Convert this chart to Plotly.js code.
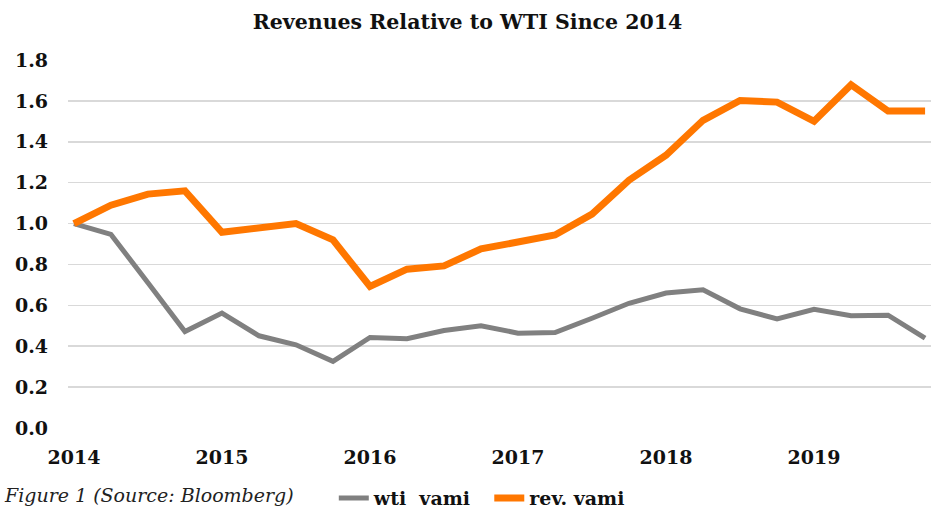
<!DOCTYPE html>
<html>
<head>
<meta charset="utf-8">
<script src="https://cdn.plot.ly/plotly-3.0.1.min.js"></script>
<style>html,body{margin:0;padding:0;background:#fff;}#chart{width:935px;height:512px;}</style>
</head>
<body>
<div id="chart"></div>
<script>
const quarters = [2014, 2014.25, 2014.5, 2014.75, 2015, 2015.25, 2015.5, 2015.75,
  2016, 2016.25, 2016.5, 2016.75, 2017, 2017.25, 2017.5, 2017.75,
  2018, 2018.25, 2018.5, 2018.75, 2019, 2019.25, 2019.5, 2019.75];
const wtiVami = [1.0, 0.947, 0.71, 0.472, 0.562, 0.451, 0.407, 0.326,
  0.443, 0.437, 0.477, 0.5, 0.464, 0.467, 0.537, 0.61,
  0.66, 0.676, 0.583, 0.533, 0.581, 0.549, 0.552, 0.44];
const revVami = [1.0, 1.09, 1.144, 1.16, 0.957, 0.978, 1.0, 0.92,
  0.692, 0.777, 0.793, 0.876, 0.911, 0.944, 1.046, 1.212,
  1.334, 1.505, 1.602, 1.594, 1.5, 1.679, 1.55, 1.55];
const yTicks = [0, 0.2, 0.4, 0.6, 0.8, 1.0, 1.2, 1.4, 1.6, 1.8];
const yTickText = ['0.0','0.2','0.4','0.6','0.8','1.0','1.2','1.4','1.6','1.8'];
const xTicks = [2014, 2015, 2016, 2017, 2018, 2019];
const xTickText = ['2014','2015','2016','2017','2018','2019'];

const serif = '"DejaVu Serif", "Liberation Serif", serif';

const traces = [
  {x: quarters, y: wtiVami, type: 'scatter', mode: 'lines', name: 'wti\u00a0 vami\u00a0\u00a0',
   line: {color: '#808080', width: 5}, cliponaxis: false},
  {x: quarters, y: revVami, type: 'scatter', mode: 'lines', name: 'rev. vami',
   line: {color: '#FF7700', width: 7}, cliponaxis: false}
];

const layout = {
  width: 935, height: 512,
  margin: {l: 68, r: 4, t: 59.5, b: 83.5, autoexpand: false},
  paper_bgcolor: '#fff', plot_bgcolor: '#fff',
  title: {text: '<b>Revenues Relative to WTI Since 2014</b>',
    font: {family: serif, size: 20.5, color: '#111'},
    x: 0.5, xanchor: 'center', xref: 'container', y: 0.957, yanchor: 'middle'},
  xaxis: {range: [2013.96, 2019.79], tickvals: xTicks, ticktext: xTickText,
    showgrid: false, zeroline: false, showline: false, ticks: '', automargin: false,
    tickfont: {family: serif, size: 19, color: '#111', weight: 'bold'},
    ticklabelstandoff: 16},
  yaxis: {range: [0, 1.8], tickvals: yTicks, ticktext: yTickText,
    showgrid: true, gridcolor: '#d9d9d9', gridwidth: 1.5, zeroline: false,
    showline: false, ticks: '', automargin: false,
    tickfont: {family: serif, size: 19, color: '#111', weight: 'bold'},
    ticklabelstandoff: 19},
  showlegend: true,
  legend: {orientation: 'h', xref: 'container', yref: 'container',
    x: 0.357, xanchor: 'left', y: 0.027, yanchor: 'middle',
    font: {family: serif, size: 19, color: '#111', weight: 'bold'},
    bgcolor: 'rgba(0,0,0,0)', itemwidth: 30, tracegroupgap: 0},
  annotations: [{text: '<i>Figure 1 (Source: Bloomberg)</i>', xref: 'paper', yref: 'paper',
    x: -0.076, xanchor: 'left', y: -0.183, yanchor: 'middle', showarrow: false,
    font: {family: serif, size: 19, color: '#222'}}]
};

Plotly.newPlot('chart', traces, layout, {displayModeBar: false, staticPlot: true});
</script>
</body>
</html>
